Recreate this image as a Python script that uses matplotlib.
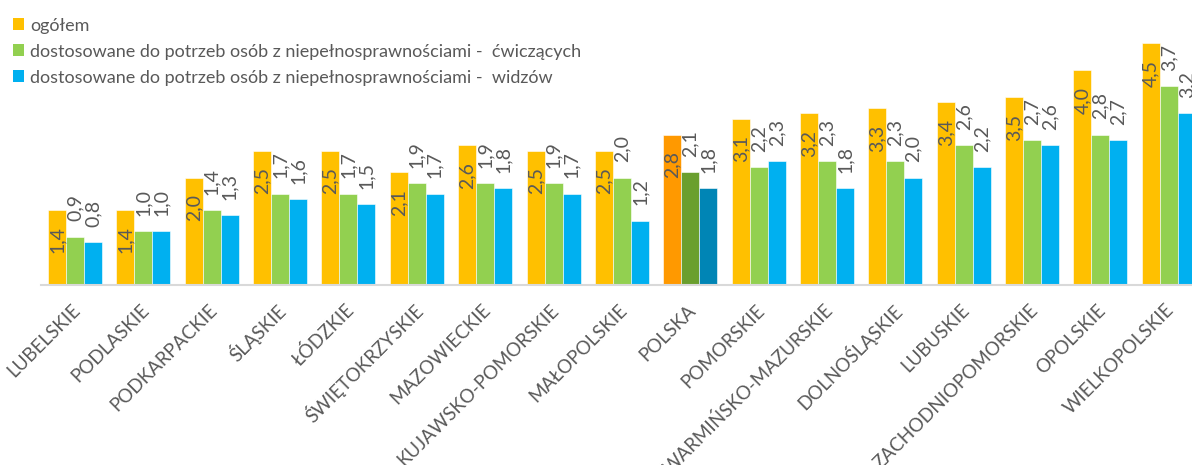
import matplotlib
matplotlib.use("Agg")
import matplotlib.pyplot as plt
import matplotlib.transforms as mtransforms
from matplotlib.patches import Patch
import numpy as np

categories = ["LUBELSKIE", "PODLASKIE", "PODKARPACKIE", "ŚLĄSKIE", "ŁÓDZKIE",
              "ŚWIĘTOKRZYSKIE", "MAZOWIECKIE", "KUJAWSKO-POMORSKIE", "MAŁOPOLSKIE",
              "POLSKA", "POMORSKIE", "WARMIŃSKO-MAZURSKIE", "DOLNOŚLĄSKIE", "LUBUSKIE",
              "ZACHODNIOPOMORSKIE", "OPOLSKIE", "WIELKOPOLSKIE"]
ogolem = [1.4, 1.4, 2.0, 2.5, 2.5, 2.1, 2.6, 2.5, 2.5, 2.8, 3.1, 3.2, 3.3, 3.4, 3.5, 4.0, 4.5]
cwiczacych = [0.9, 1.0, 1.4, 1.7, 1.7, 1.9, 1.9, 1.9, 2.0, 2.1, 2.2, 2.3, 2.3, 2.6, 2.7, 2.8, 3.7]
widzow = [0.8, 1.0, 1.3, 1.6, 1.5, 1.7, 1.8, 1.7, 1.2, 1.8, 2.3, 1.8, 2.0, 2.2, 2.6, 2.7, 3.2]
series_names = ["ogółem",
                "dostosowane do potrzeb osób z niepełnosprawnościami -  ćwiczących",
                "dostosowane do potrzeb osób z niepełnosprawnościami -  widzów"]
colors = ["#FFC000", "#92D050", "#00B0F0"]
highlight_colors = ["#FF9900", "#6A9F2E", "#0085B5"]
highlight = "POLSKA"

plt.rcParams['font.family'] = ['Lato', 'DejaVu Sans']
text_color = "#595959"

W, H = 1192, 465
fig = plt.figure(figsize=(W / 100, H / 100), dpi=100)
left_px, right_px = 40.8, 1203.0
base_px = 285.0
top_px = base_px - 5 * 53.7
ax = fig.add_axes([left_px / W, (H - base_px) / H, (right_px - left_px) / W, (base_px - top_px) / H])

x = np.arange(len(categories))
bw = 0.263
data = [ogolem, cwiczacych, widzow]
for i, vals in enumerate(data):
    cols = [highlight_colors[i] if c == highlight else colors[i] for c in categories]
    xs = x + (i - 1) * bw
    ax.bar(xs, vals, width=bw, color=cols, edgecolor="white", linewidth=0.4, zorder=2)
    for xi, v in zip(xs, vals):
        lbl = f"{v:.1f}".replace(".", ",")
        if i == 0:
            ax.annotate(lbl, (xi, v), xytext=(0, -12), textcoords="offset points",
                        rotation=90, ha="center", va="top", fontsize=14,
                        color=text_color)
        else:
            ax.annotate(lbl, (xi, v), xytext=(0, 11), textcoords="offset points",
                        rotation=90, ha="center", va="bottom", fontsize=14,
                        color=text_color)

ax.set_xlim(-0.5, len(categories) - 0.5)
ax.set_ylim(0, 5)
for s in ["top", "right", "left"]:
    ax.spines[s].set_visible(False)
ax.spines["bottom"].set_color("#D9D9D9")
ax.spines["bottom"].set_linewidth(1.5)
ax.set_yticks([])
ax.set_xticks(x)
ax.tick_params(axis="x", length=0, pad=16)
offset = mtransforms.ScaledTranslation(2 / 72, 0, fig.dpi_scale_trans)
ax.set_xticklabels(categories, rotation=45, ha="right", va="center",
                   rotation_mode="anchor", fontsize=13.5, color=text_color)
for lab in ax.get_xticklabels():
    lab.set_transform(lab.get_transform() + offset)

handles = [Patch(facecolor=c, edgecolor="none") for c in colors]
fig.legend(handles, series_names, loc="upper left", bbox_to_anchor=(0.0, 1.0 - 5 / H),
           frameon=False, fontsize=13, labelcolor=text_color,
           handlelength=0.65, handleheight=0.65, handletextpad=0.3,
           labelspacing=0.55, borderaxespad=0.3)

fig.savefig("out.png", dpi=100)
